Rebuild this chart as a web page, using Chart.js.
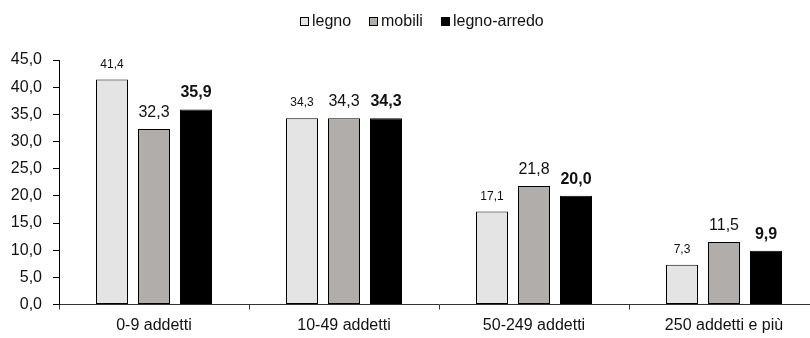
<!DOCTYPE html>
<html>
<head>
<meta charset="utf-8">
<script src="https://cdn.jsdelivr.net/npm/chart.js@4.4.1/dist/chart.umd.min.js"></script>
<style>
  html, body { margin: 0; padding: 0; background: #fff; overflow: hidden; width: 810px; height: 338px; }
  canvas { display: block; }
</style>
</head>
<body>
<canvas id="chart" width="830" height="338"></canvas>
<script>
// Quota di imprese per classe di addetti (%)
const categories = ['0-9 addetti', '10-49 addetti', '50-249 addetti', '250 addetti e più'];
const seriesNames = ['legno', 'mobili', 'legno-arredo'];
const legno = [41.4, 34.3, 17.1, 7.3];
const mobili = [32.3, 34.3, 21.8, 11.5];
const legnoArredo = [35.9, 34.3, 20.0, 9.9];
const yTickValues = [0, 5, 10, 15, 20, 25, 30, 35, 40, 45];

const FONT = "'Liberation Sans', Arial, sans-serif";
const fmt = v => v.toFixed(1).replace('.', ',');

// Per-series look: fill colour and the font used for the value labels
const seriesStyle = [
  { fill: '#e4e4e4', labelFont: '12px ' + FONT },
  { fill: '#b1adab', labelFont: '16px ' + FONT },
  { fill: '#000000', labelFont: 'bold 16px ' + FONT }
];

const seriesValues = [legno, mobili, legnoArredo];

const datasets = seriesValues.map((vals, i) => ({
  label: seriesNames[i],
  data: vals,
  backgroundColor: seriesStyle[i].fill,
  borderColor: '#000000',
  borderWidth: 1,
  borderSkipped: false,
  inflateAmount: 0,
  categoryPercentage: 126 / 190,
  barPercentage: 32 / 42
}));

// Value labels above each bar
const valueLabels = {
  id: 'valueLabels',
  afterDatasetsDraw(chart) {
    const ctx = chart.ctx;
    ctx.save();
    ctx.fillStyle = '#111';
    ctx.textAlign = 'center';
    ctx.textBaseline = 'alphabetic';
    chart.data.datasets.forEach((ds, i) => {
      const meta = chart.getDatasetMeta(i);
      ctx.font = seriesStyle[i].labelFont;
      meta.data.forEach((bar, j) => {
        ctx.fillText(fmt(ds.data[j]), bar.x, bar.y - 12);
      });
    });
    ctx.restore();
  }
};

// Compact legend centred above the plot
const topLegend = {
  id: 'topLegend',
  afterDraw(chart) {
    const ctx = chart.ctx;
    const box = 9, gap = 3, spacing = 18, centerX = 421.5, boxTop = 17;
    ctx.save();
    ctx.font = '16px ' + FONT;
    const widths = chart.data.datasets.map(ds => ctx.measureText(ds.label).width);
    const total = widths.reduce((a, w) => a + box + gap + w, 0) + spacing * (widths.length - 1);
    let x = Math.round(centerX - total / 2);
    ctx.textBaseline = 'middle';
    ctx.textAlign = 'left';
    chart.data.datasets.forEach((ds, i) => {
      ctx.fillStyle = ds.backgroundColor;
      ctx.fillRect(x, boxTop, box, box);
      ctx.strokeStyle = '#000';
      ctx.lineWidth = 1;
      ctx.strokeRect(x + 0.5, boxTop + 0.5, box - 1, box - 1);
      ctx.fillStyle = '#111';
      ctx.fillText(ds.label, x + box + gap, boxTop + box / 2 + 0.5);
      x = Math.round(x + box + gap + widths[i] + spacing);
    });
    ctx.restore();
  }
};

new Chart(document.getElementById('chart'), {
  type: 'bar',
  data: { labels: categories, datasets },
  options: {
    responsive: false,
    devicePixelRatio: 1,
    animation: false,
    layout: { padding: { top: 60, right: 11, bottom: 0, left: 0 } },
    plugins: {
      legend: { display: false },
      tooltip: { enabled: false }
    },
    scales: {
      x: {
        offset: true,
        grid: {
          offset: true,
          drawOnChartArea: false,
          drawTicks: true,
          tickLength: 5,
          color: '#333',
          lineWidth: 1
        },
        border: { display: true, color: '#333', width: 1 },
        ticks: {
          color: '#111',
          font: { family: FONT, size: 16 },
          padding: 6,
          maxRotation: 0,
          autoSkip: false
        },
        afterFit(scale) { scale.height = 33.5; }
      },
      y: {
        min: 0,
        max: 45,
        afterBuildTicks(scale) { scale.ticks = yTickValues.map(v => ({ value: v })); },
        grid: {
          drawOnChartArea: false,
          drawTicks: true,
          tickLength: 6,
          color: '#000',
          lineWidth: 1
        },
        border: { display: true, color: '#000', width: 1 },
        ticks: {
          color: '#111',
          font: { family: FONT, size: 16 },
          padding: 11,
          callback: v => fmt(v)
        },
        afterFit(scale) { scale.width = 59; }
      }
    }
  },
  plugins: [valueLabels, topLegend]
});
</script>
</body>
</html>
